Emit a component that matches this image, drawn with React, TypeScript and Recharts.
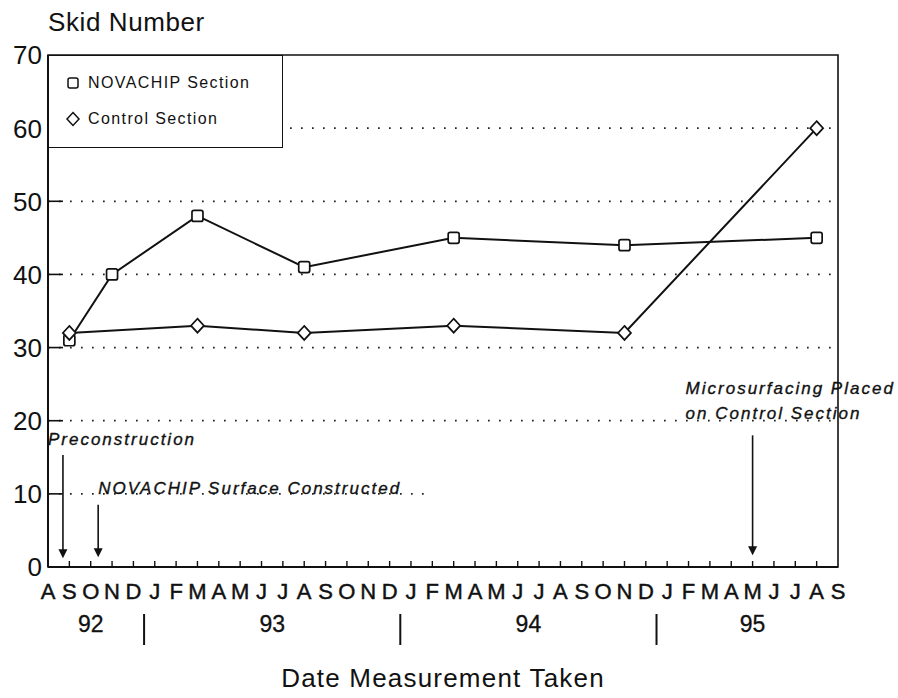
import React from 'react';
import { LineChart, Line, XAxis, YAxis, ReferenceLine, ReferenceArea, Legend } from 'recharts';

// ---- data ----
const months = ['A','S','O','N','D','J','F','M','A','M','J','J','A','S','O','N','D','J','F','M','A','M','J','J','A','S','O','N','D','J','F','M','A','M','J','J','A','S'];
const monthTicks = months.map((_, i) => i);
const yearTicks = [2, 4.5, 10.5, 16.5, 22.5, 28.5, 33];
const yearLabels = ['92', '|', '93', '|', '94', '|', '95'];
const yTicks = [0, 10, 20, 30, 40, 50, 60, 70];
const gridValues = [20, 30, 40, 50, 60];
const partialGridValue = 10;
const partialGridEnd = 17.7;

const novachipMonths = [1, 3, 7, 12, 19, 27, 36];
const novachipValues = [31, 40, 48, 41, 45, 44, 45];
const controlMonths = [1, 7, 12, 19, 27, 36];
const controlValues = [32, 33, 32, 33, 32, 60];
const seriesNames = ['NOVACHIP Section', 'Control Section'];

const annotationTexts = [['Preconstruction'], ['NOVACHIP Surface Constructed'], ['Microsurfacing Placed', 'on Control Section']];
const annotationMonth = [0.7, 2.35, 33];
const annotationFrom = [15.3, 8.5, 18];
const annotationTo = [1.2, 1.35, 1.6];

// ---- styles ----
const FONT = '"Liberation Sans", Arial, Helvetica, sans-serif';
const INK = '#111';
const annotationDx = [-15, 0, -67];
const annotationDy = [-16, -17, -47];
const annotationLineGap = 25;

const novachipData = novachipMonths.map((m, i) => ({ m, v: novachipValues[i] }));
const controlData = controlMonths.map((m, i) => ({ m, v: controlValues[i] }));
const yearAxisData = yearTicks.map((m) => ({ m, v: 0 }));

const SquareDot = (p: any) => (
  <rect key={`s${p.index}`} x={p.cx - 5.5} y={p.cy - 5.5} width={11} height={11} rx={2} fill="#fff" stroke={INK} strokeWidth={1.7} />
);
const DiamondDot = (p: any) => (
  <polygon key={`d${p.index}`} points={`${p.cx},${p.cy - 7} ${p.cx + 6.5},${p.cy} ${p.cx},${p.cy + 7} ${p.cx - 6.5},${p.cy}`} fill="#fff" stroke={INK} strokeWidth={1.7} />
);

const MonthTick = (p: any) => {
  const i = p.payload.value;
  const inner = i > 0 && i < months.length - 1;
  return (
    <g>
      {inner && <line x1={p.x} x2={p.x} y1={p.y} y2={p.y - 6} stroke={INK} strokeWidth={1.4} />}
      <text x={p.x} y={p.y + 32} textAnchor="middle" fontFamily={FONT} fontSize={22} stroke={INK} strokeWidth={0.45} fill={INK}>{months[i]}</text>
    </g>
  );
};

const YearTick = (p: any) => {
  const v = p.payload.value;
  let idx = -1;
  yearTicks.forEach((t, k) => { if (Math.abs(t - v) < 1e-6) idx = k; });
  const label = yearLabels[idx];
  if (label === '|') {
    return <line x1={p.x} x2={p.x} y1={p.y + 7} y2={p.y + 38} stroke={INK} strokeWidth={2} />;
  }
  return <text x={p.x} y={p.y + 25} textAnchor="middle" fontFamily={FONT} fontSize={23} stroke={INK} strokeWidth={0.3} fill={INK}>{label}</text>;
};

const YTick = (p: any) => {
  const v = p.payload.value;
  const inner = v > 0 && v < 70;
  return (
    <g>
      {inner && <line x1={p.x + 6} x2={p.x + 21} y1={p.y} y2={p.y} stroke={INK} strokeWidth={1.6} />}
      <text x={p.x} y={p.y} dy="0.36em" textAnchor="end" fontFamily={FONT} fontSize={26} fill={INK}>{v}</text>
    </g>
  );
};

const SkidLabel = (p: any) => {
  const vb = p.viewBox;
  return <text x={vb.x + vb.width} y={vb.y - 24} fontFamily={FONT} fontSize={26} letterSpacing={0.6} fill={INK}>Skid Number</text>;
};

const TitleLabel = (p: any) => {
  const vb = p.viewBox;
  return <text x={vb.x + vb.width / 2} y={vb.y + vb.height} textAnchor="middle" fontFamily={FONT} fontSize={26} letterSpacing={1.2} fill={INK}>Date Measurement Taken</text>;
};

const makeArrow = (i: number) => (p: any) => {
  const { x1, y1, y2 } = p;
  const lines = annotationTexts[i];
  return (
    <g>
      <line x1={x1} x2={x1} y1={y1} y2={y2 - 7} stroke={INK} strokeWidth={1.6} />
      <polygon points={`${x1 - 4.5},${y2 - 9} ${x1 + 4.5},${y2 - 9} ${x1},${y2}`} fill={INK} />
      {lines.map((t, j) => (
        <text key={j} x={x1 + annotationDx[i]} y={y1 + annotationDy[i] + j * annotationLineGap} dy="0.35em" fontFamily={FONT} fontStyle="italic" fontSize={17} letterSpacing={2} stroke={INK} strokeWidth={0.35} fill={INK}>{t}</text>
      ))}
    </g>
  );
};

const LegendBox = () => (
  <div style={{ position: 'relative', width: 235, height: 93, border: `1.5px solid ${INK}`, boxSizing: 'border-box', background: '#fff', fontFamily: FONT }}>
    {seriesNames.map((name, i) => (
      <div key={name} style={{ position: 'absolute', left: 16, top: i === 0 ? 16 : 52, height: 22, display: 'flex', alignItems: 'center' }}>
        <svg width={16} height={16} style={{ marginRight: 7 }}>
          {i === 0 ? (
            <rect x={3} y={3} width={10} height={10} rx={2} fill="#fff" stroke={INK} strokeWidth={1.5} />
          ) : (
            <polygon points="8,1.5 14,8 8,14.5 2,8" fill="#fff" stroke={INK} strokeWidth={1.5} />
          )}
        </svg>
        <span style={{ fontSize: 16, letterSpacing: 1.4, color: INK }}>{name}</span>
      </div>
    ))}
  </div>
);

export default function App() {
  return (
    <div style={{ position: 'absolute', left: 0, top: 0, width: 898, height: 698, background: '#fff' }}>
      <LineChart width={898} height={698} margin={{ top: 55, right: 60, bottom: 11, left: 0 }}>
        <XAxis xAxisId="m" dataKey="m" type="number" domain={[0, 37]} ticks={monthTicks} interval={0} tickSize={0} tickMargin={0} height={40} axisLine={{ stroke: INK, strokeWidth: 2 }} tick={MonthTick} allowDataOverflow />
        <XAxis xAxisId="y" dataKey="m" type="number" domain={[0, 37]} ticks={yearTicks} interval={0} tickSize={0} tickMargin={0} height={80} axisLine={false} tickLine={false} tick={YearTick} label={{ content: TitleLabel }} allowDataOverflow />
        <YAxis type="number" domain={[0, 70]} ticks={yTicks} interval={0} width={48} tickSize={0} tickMargin={6} axisLine={{ stroke: INK, strokeWidth: 2 }} tick={YTick} label={{ content: SkidLabel }} allowDataOverflow />
        <ReferenceArea xAxisId="m" x1={0} x2={37} y1={0} y2={70} fill="none" stroke={INK} strokeWidth={1.6} fillOpacity={0} />
        {gridValues.map((v) => (
          <ReferenceLine key={v} xAxisId="m" y={v} stroke="#222" strokeWidth={1.7} strokeDasharray="1.7 9.3" />
        ))}
        <ReferenceLine xAxisId="m" segment={[{ x: 0, y: partialGridValue }, { x: partialGridEnd, y: partialGridValue }]} stroke="#222" strokeWidth={1.7} strokeDasharray="1.7 9.3" />
        {annotationMonth.map((m, i) => (
          <ReferenceLine key={`a${i}`} xAxisId="m" segment={[{ x: m, y: annotationFrom[i] }, { x: m, y: annotationTo[i] }]} shape={makeArrow(i)} />
        ))}
        <Line xAxisId="y" data={yearAxisData} dataKey="v" stroke="none" dot={false} activeDot={false} legendType="none" isAnimationActive={false} />
        <Line xAxisId="m" data={novachipData} dataKey="v" name={seriesNames[0]} stroke={INK} strokeWidth={2} dot={SquareDot} activeDot={false} isAnimationActive={false} />
        <Line xAxisId="m" data={controlData} dataKey="v" name={seriesNames[1]} stroke={INK} strokeWidth={2} dot={DiamondDot} activeDot={false} isAnimationActive={false} />
        <Legend layout="vertical" align="center" verticalAlign="middle" content={LegendBox} wrapperStyle={{ left: 48, top: 55, width: 235, height: 93 }} />
      </LineChart>
    </div>
  );
}
